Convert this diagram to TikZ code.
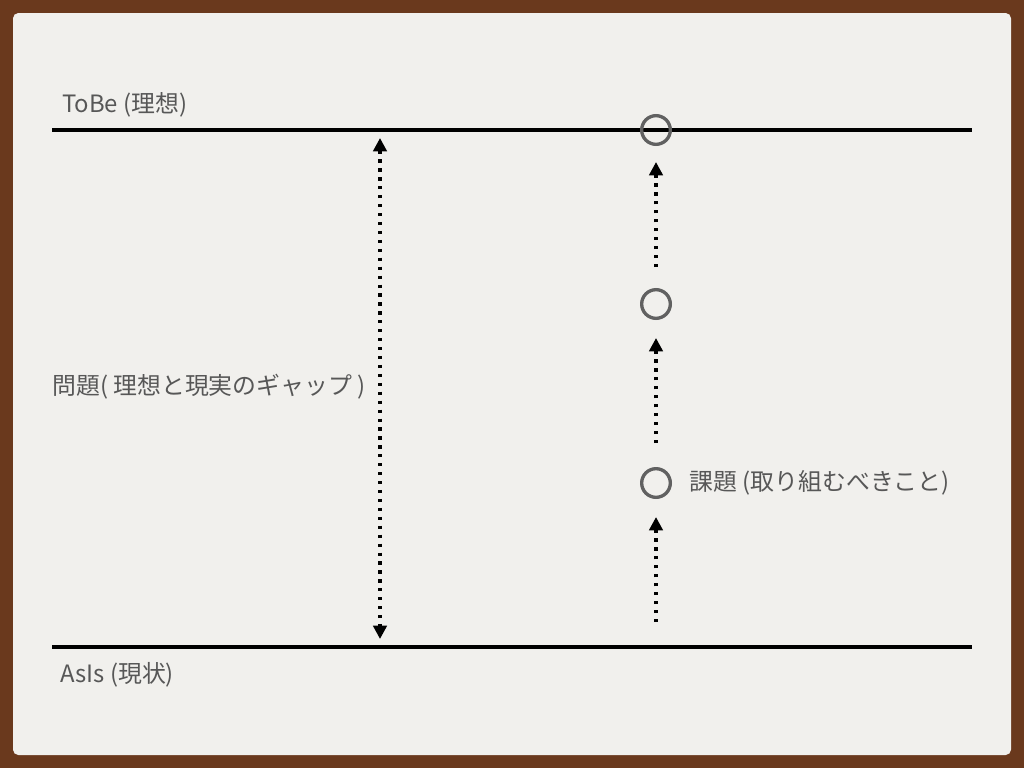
\documentclass[tikz,border=0pt]{standalone}
\usepackage{fontspec}
\setmainfont{Noto Sans CJK JP}
\usetikzlibrary{positioning, arrows.meta}
\definecolor{woodframe}{HTML}{6A391D}
\definecolor{paper}{HTML}{F1F0ED}
\definecolor{ink}{HTML}{575757}
\definecolor{ringgray}{HTML}{616161}

\begin{document}
\begin{tikzpicture}[x=0.75pt, y=-0.75pt,
                level/.style={draw=black, line width=2.6pt},
                ring/.style={circle, draw=ringgray, line width=2.5pt, minimum size=21.5pt, inner sep=0pt},
                gap/.style={line width=2.6pt, dash pattern=on 2.4pt off 4.3pt, -{Triangle[length=10pt, width=10pt]}},
                gapboth/.style={gap, {Triangle[length=10pt, width=10pt]}-{Triangle[length=10pt, width=10pt]}},
                lbl/.style={font=\fontsize{17.9}{21}\selectfont, text=ink, inner sep=0pt},
            ]
                % Frame and paper
                \fill[woodframe] (0,0) rectangle (1024,768);
                \fill[paper, rounded corners=4pt] (13,13) rectangle (1011,755);

                % ToBe / AsIs levels
                \coordinate (tobeL) at (52,130);
                \coordinate (tobeR) at (972,130);
                \coordinate (asisL) at (52,647);
                \coordinate (asisR) at (972,647);
                \draw[level] (tobeL) -- (tobeR);
                \draw[level] (asisL) -- (asisR);
                \node[lbl, anchor=base west] (tobe) at (62,112) {ToBe (理想)};
                \node[lbl, anchor=base west] (asis) at (60,682) {AsIs (現状)};

                % Gap between the levels
                \coordinate (gapT) at (380,130);
                \coordinate (gapB) at (380,647);
                \draw[gapboth, shorten <=6pt, shorten >=6pt] (gapT) -- (gapB);
                \node[lbl, anchor=west] (mondai) at (52,387) {問題( 理想と現実のギャップ )};

                % Steps towards ToBe
                \node[ring] (c1) at (656,130) {};
                \node[ring] (c2) at (656,304) {};
                \node[ring] (c3) at (656,483) {};
                \coordinate (base) at (656,647);
                \node[lbl, right=13pt of c3] (kadai) {課題 (取り組むべきこと)};

                \draw[gap, shorten <=15.75pt, shorten >=12pt] (c2) -- (c1);
                \draw[gap, shorten <=18pt, shorten >=13.5pt] (c3) -- (c2);
                \draw[gap, shorten <=18.75pt, shorten >=13.5pt] (base) -- (c3);
            \end{tikzpicture}
\end{document}
